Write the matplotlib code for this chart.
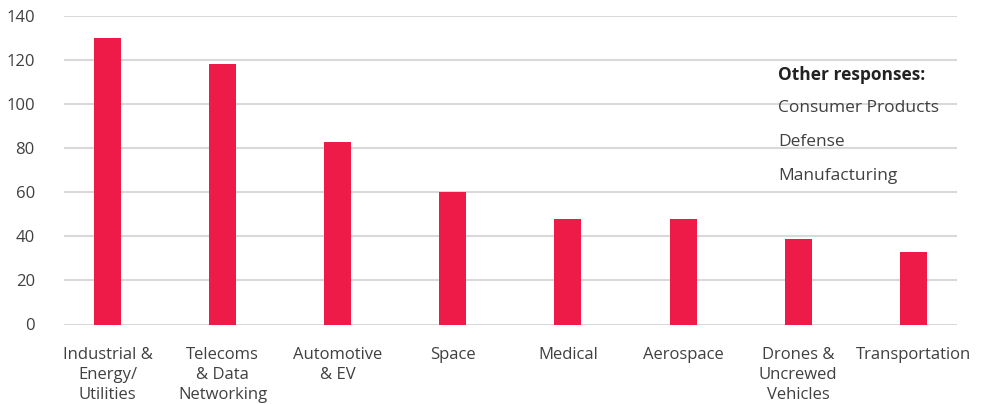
import matplotlib.pyplot as plt

plt.rcParams['font.family'] = ['Open Sans', 'DejaVu Sans']

# sectors and number of responses
sectors = ['Industrial &\nEnergy/\nUtilities', 'Telecoms\n& Data\nNetworking', 'Automotive\n& EV',
           'Space', 'Medical', 'Aerospace', 'Drones &\nUncrewed\nVehicles', 'Transportation']
responses = [130, 118, 83, 60, 48, 48, 39, 33]
other_responses = ['Consumer Products', 'Defense', 'Manufacturing']

bar_color = '#EE1A47'
text_color = '#404040'
grid_color = '#D9D9D9'

fig = plt.figure(figsize=(9.92, 4.04), dpi=100)
ax = fig.add_axes([64 / 992, 1 - 324.5 / 404, 893 / 992, 308.5 / 404])

x = list(range(len(sectors)))
ax.bar(x, responses, width=0.235, color=bar_color, zorder=3)

ax.set_ylim(0, 140)
ax.set_xlim(-0.378, 7.38)
ax.set_yticks(range(0, 141, 20))
ax.yaxis.grid(True, color=grid_color, linewidth=1.5, zorder=0)
ax.set_xticks(x)
ax.set_xticklabels(sectors, linespacing=1.33, va='top')
ax.tick_params(axis='both', length=0, labelsize=12, labelcolor=text_color)
ax.tick_params(axis='y', pad=21)
ax.tick_params(axis='x', pad=16)
for spine in ax.spines.values():
    spine.set_visible(False)

# list of smaller sectors on the right side
fig.text(778 / 992, 1 - 75 / 404, 'Other responses:', fontsize=12.5, fontweight='bold',
         color='#222222', va='center', ha='left')
for i, name in enumerate(other_responses):
    fig.text(778 / 992, 1 - (108 + 34 * i) / 404, name, fontsize=12.5, color=text_color,
             va='center', ha='left')

fig.savefig('out.png', dpi=100, facecolor='white')
